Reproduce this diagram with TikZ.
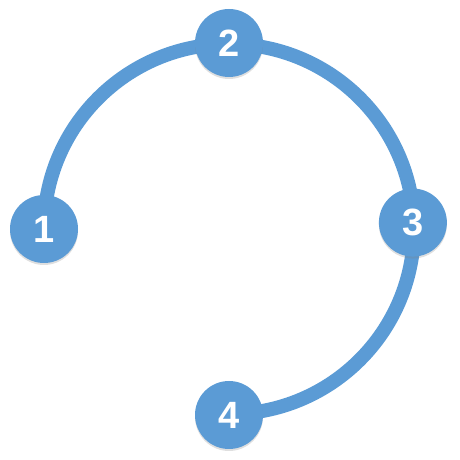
\documentclass[tikz,border=0pt]{standalone}
\usepackage{fontspec}
\setmainfont{Liberation Sans}
\usetikzlibrary{backgrounds, shadows, calc}
\definecolor{stepblue}{RGB}{91,155,213}
\tikzset{
  stepnode/.style = {circle, fill=stepblue, minimum size=68pt, inner sep=0pt,
                     text=white, font=\fontsize{38}{38}\selectfont\bfseries,
                     drop shadow={shadow xshift=0pt, shadow yshift=-2pt, opacity=0.25}},
  track/.style    = {draw=stepblue, line width=14pt},
}
\begin{document}
\begin{tikzpicture}[x=1pt, y=1pt]
  \useasboundingbox (0,0) rectangle (460,460);
  \coordinate (mid) at (229,231);
  \node[stepnode] (one)   at ($(mid)+(180:185)$) {1};
  \node[stepnode] (two)   at ($(mid)+(90:186)$)  {2};
  \node[stepnode] (three) at ($(mid)+(2:184)$)   {3};
  \node[stepnode] (four)  at ($(mid)+(-90:186)$) {4};
  \begin{scope}[on background layer]
    \draw[track] (one.center) arc[start angle=180, end angle=-90, radius=185];
  \end{scope}
\end{tikzpicture}
\end{document}
